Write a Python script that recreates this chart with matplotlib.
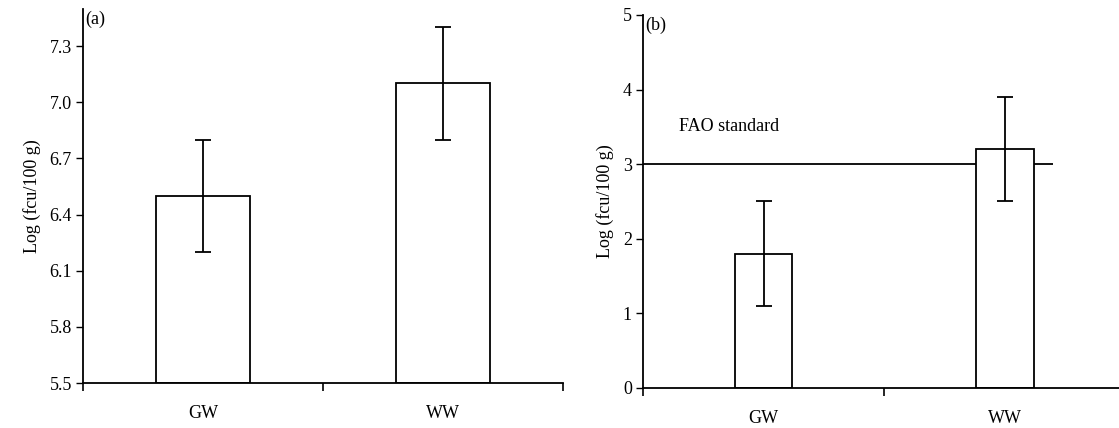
import matplotlib.pyplot as plt
import numpy as np

plt.rcParams['font.family'] = ['Liberation Serif', 'DejaVu Serif']

# data
sites = ['GW', 'WW']
means_a = [6.5, 7.1]
err_a = [0.3, 0.3]
means_b = [1.8, 3.2]
err_b = [0.7, 0.7]
fao_standard = 3.0

yticks_a = [5.5, 5.8, 6.1, 6.4, 6.7, 7.0, 7.3]
yticks_b = [0, 1, 2, 3, 4, 5]

FS = 13

fig = plt.figure(figsize=(11.19, 4.28), dpi=100)
ax1 = fig.add_axes([0.0742, 0.105, 0.429, 0.875])
ax2 = fig.add_axes([0.5746, 0.0935, 0.431, 0.8715])


def style_panel(ax, ylim, yticks, fmt, label):
    ax.set_xlim(0, 2)
    ax.set_ylim(*ylim)
    for s in ['top', 'right']:
        ax.spines[s].set_visible(False)
    for s in ['left', 'bottom']:
        ax.spines[s].set_linewidth(1.3)
    ax.set_yticks(yticks)
    ax.set_yticklabels([fmt.format(v) for v in yticks])
    ax.set_xticks([0, 1, 2])
    ax.set_xticklabels([])
    ax.set_xticks([0.5, 1.5], minor=True)
    ax.set_xticklabels(sites, minor=True)
    ax.tick_params(axis='x', which='major', length=6, width=1.2, direction='out')
    ax.tick_params(axis='x', which='minor', length=0, pad=16, labelsize=FS)
    ax.tick_params(axis='y', length=5, width=1.0, labelsize=FS, pad=3)
    ax.set_ylabel('Log (fcu/100 g)', fontsize=FS, labelpad=6)
    ax.text(0.005, 0.995, label, transform=ax.transAxes, ha='left', va='top', fontsize=FS)


x = np.array([0.5, 1.5])

# panel (a)
ax1.bar(x, np.array(means_a) - 5.5, bottom=5.5, width=0.39, color='white',
        edgecolor='black', linewidth=1.3, zorder=2)
ax1.errorbar(x, means_a, yerr=err_a, fmt='none', ecolor='black',
             elinewidth=1.3, capsize=5.5, capthick=1.3, zorder=3)
style_panel(ax1, (5.5, 7.5), yticks_a, '{:.1f}', '(a)')

# panel (b)
ax2.bar(x, means_b, width=0.24, color='white', edgecolor='black',
        linewidth=1.3, zorder=2)
ax2.errorbar(x, means_b, yerr=err_b, fmt='none', ecolor='black',
             elinewidth=1.3, capsize=5.5, capthick=1.3, zorder=3)
ax2.hlines(fao_standard, 0, 1.7, color='black', linewidth=1.3, zorder=1)
ax2.text(0.15, fao_standard + 0.5, 'FAO standard', fontsize=FS, ha='left', va='center')
style_panel(ax2, (0, 5), yticks_b, '{:d}', '(b)')

plt.savefig('out.png', dpi=100)
